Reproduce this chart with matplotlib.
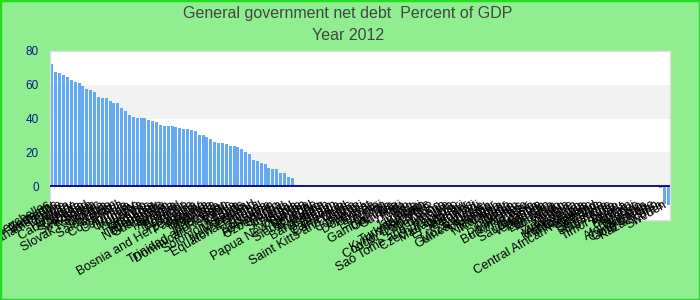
import matplotlib
matplotlib.use("Agg")
import matplotlib.pyplot as plt
from matplotlib.patches import Rectangle

plt.rcParams["font.family"] = ["Liberation Sans", "DejaVu Sans"]

# Net debt, percent of GDP, 2012 (order as in the source chart)
countries = [
    "Seychelles", "Germany", "Barbados", "Bahamas, The", "Belize", "Malta", "Hungary", "Cabo Verde",
    "Canada", "Albania", "Swaziland", "Spain", "Samoa", "Slovak Republic", "Croatia", "Serbia",
    "Saint Lucia", "Mexico", "Brazil", "Costa Rica", "Colombia", "Tunisia", "Uruguay", "Morocco",
    "Latvia", "Lesotho", "Honduras", "Romania", "Denmark", "Netherlands", "Guatemala", "Jordan",
    "Panama", "Armenia", "Thailand", "Ecuador", "Australia", "Ghana", "Bosnia and Herzegovina",
    "Paraguay", "Bolivia", "Bulgaria", "Moldova", "Georgia", "Indonesia", "Peru",
    "Trinidad and Tobago", "Dominican Republic", "Kenya", "Chile", "Solomon Islands", "Mongolia",
    "Vanuatu", "New Zealand", "Equatorial Guinea", "Nepal", "Estonia", "Botswana", "Azerbaijan",
    "Uzbekistan", "Tonga", "Iceland", "Slovenia", "Israel",
    "Angola", "Uganda", "Papua New Guinea", "Ukraine", "Senegal", "Sierra Leone", "Sudan",
    "Argentina", "Bangladesh", "Benin", "Bhutan", "Cambodia", "Cameroon", "Chad",
    "Saint Kitts and Nevis", "China", "Comoros", "Djibouti", "Dominica", "Egypt", "Eritrea",
    "Ethiopia", "Fiji", "Gabon", "Gambia, The", "Grenada", "Guyana", "Haiti", "India", "Iran", "Iraq",
    "Jamaica", "Kiribati", "Turkmenistan", "Kyrgyz Republic", "Congo, Dem. Rep.", "Lao P.D.R.",
    "Lebanon", "Liberia", "Sao Tome and Principe", "Libya", "Czech Republic", "Madagascar", "Malawi",
    "El Salvador", "Maldives", "Mali", "Burundi", "Mozambique", "Guinea-Bissau", "Guinea", "Myanmar",
    "Namibia", "Nicaragua", "Niger", "Nigeria", "Oman", "Pakistan", "Philippines", "Burkina Faso",
    "Qatar", "Russia", "Rwanda", "Saudi Arabia", "Venezuela", "Tajikistan", "Lithuania", "Tanzania",
    "Togo", "Yemen", "Zambia", "Zimbabwe", "Macedonia", "Montenegro", "Mauritania", "Malaysia",
    "Central African Republic", "Poland", "Vietnam", "Sri Lanka", "Singapore", "Suriname", "Syria",
    "Timor-Leste", "Tuvalu", "Algeria", "Bahrain", "Brunei", "Kosovo", "Afghanistan", "Belarus",
    "Congo, Rep.", "Cote d'Ivoire",
    "Kazakhstan", "Korea", "Sweden",
]

positive_values = [
    72.3, 67.6, 67.0, 65.8, 64.6, 62.9, 61.7, 61.1, 59.3, 57.5, 57.0, 55.8, 52.8, 52.2, 52.2, 50.5,
    49.3, 49.3, 46.3, 44.5, 42.2, 41.0, 40.4, 40.4, 40.4, 39.2, 38.6, 38.0, 36.3, 35.7, 35.7, 35.7,
    35.1, 34.5, 33.9, 33.9, 33.3, 32.7, 30.4, 30.4, 29.2, 28.0, 26.2, 25.6, 25.6, 25.0, 23.8, 23.8,
    23.3, 22.1, 20.3, 19.1, 15.6, 15.0, 13.8, 13.2, 10.8, 10.2, 10.2, 7.9, 7.9, 5.5, 4.9, 0.8,
]
missing_values = [0.0] * 93
negative_values = [-1.3, -10.3, -10.9]
values = positive_values + missing_values + negative_values

title_line1 = "General government net debt  Percent of GDP"
title_line2 = "Year 2012"
y_ticks = [-20, 0, 20, 40, 60, 80]

fig = plt.figure(figsize=(7, 3), dpi=100)
fig.patch.set_facecolor("#90ee90")
fig.patches.append(Rectangle((0, 0), 1, 1, transform=fig.transFigure, fill=False,
                             edgecolor="#22dd22", linewidth=2.5, zorder=10))

ax = fig.add_axes([50 / 700, 80 / 300, 620 / 700, 169 / 300])
ax.set_facecolor("white")

# alternating horizontal bands
for lo in (0, 40):
    ax.axhspan(lo, lo + 20, color="#f2f2f2", zorder=0, linewidth=0)

x = list(range(len(values)))
ax.bar(x, values, width=0.78, color="#63aaf2", zorder=2)
ax.axhline(0, color="#00008b", linewidth=1.3, zorder=3)

ax.set_xlim(-0.5, len(values) - 0.5)
ax.set_ylim(-20, 80)
ax.set_yticks(y_ticks)
ax.set_yticklabels([str(t) for t in y_ticks], color="#0a1a8c", fontsize=8.5)
ax.tick_params(axis="y", length=0, pad=8)
ax.set_xticks([])
for s in ax.spines.values():
    s.set_color("#dddddd")
    s.set_linewidth(1)

for i, name in enumerate(countries):
    ax.text(i - 0.6, -10.5, name, rotation=30, ha="right", va="center",
            rotation_mode="anchor", fontsize=9, color="black",
            clip_on=False, zorder=5)

fig.text(0.497, 0.955, title_line1, ha="center", va="center", fontsize=11.5, color="#444444")
fig.text(0.497, 0.88, title_line2, ha="center", va="center", fontsize=11.5, color="#444444")

fig.savefig("out.png", dpi=100, facecolor=fig.get_facecolor())
